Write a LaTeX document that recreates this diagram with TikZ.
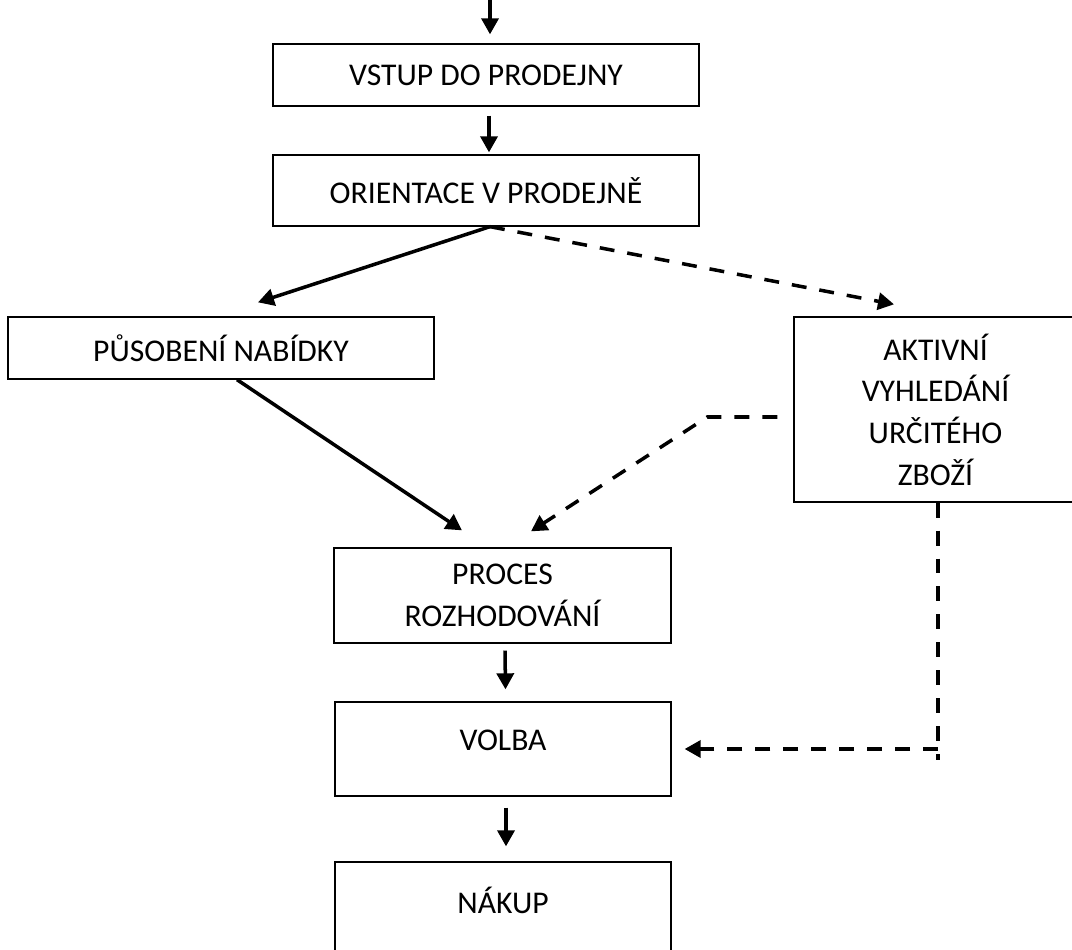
\documentclass[tikz,border=0pt]{standalone}
\usepackage{fontspec}
\setmainfont{Carlito}
\usetikzlibrary{arrows.meta}
\begin{document}
\begin{tikzpicture}[font=\fontsize{18}{23.7}\selectfont, >={Triangle[length=0.32cm,width=0.34cm]},
  box/.style={draw, line width=0.75pt, inner sep=0pt, align=center},
  conn/.style={->, line width=2pt},
  dashconn/.style={line width=2pt, dash pattern=on 8.5pt off 7.4pt}]
  \useasboundingbox (0,0) rectangle (21.44,-19);

  \node[box, minimum width=8.52cm, minimum height=1.24cm] (vstup)  at (9.72,-1.5)   {VSTUP DO PRODEJNY};
  \node[box, minimum width=8.52cm, minimum height=1.42cm] (orient) at (9.72,-3.81)  {ORIENTACE V PRODEJNĚ};
  \node[box, minimum width=8.52cm, minimum height=1.24cm] (pusob)  at (4.42,-6.96)  {PŮSOBENÍ NABÍDKY};
  \node[box, minimum width=5.66cm, minimum height=3.7cm]  (aktiv)  at (18.71,-8.19) {AKTIVNÍ\\VYHLEDÁNÍ\\URČITÉHO\\ZBOŽÍ};
  \node[box, minimum width=6.74cm, minimum height=1.9cm]  (proces) at (10.05,-11.91) {PROCES\\ROZHODOVÁNÍ};
  \node[box, minimum width=6.72cm, minimum height=1.88cm, text depth=0.36cm] (volba) at (10.06,-14.98) {VOLBA};
  \node[box, minimum width=6.72cm, minimum height=1.88cm, text depth=0.36cm] (nakup) at (10.06,-18.18) {NÁKUP};

  \coordinate (start) at (9.8,0);
  \coordinate (turn) at ([xshift=0.05cm]aktiv.south |- volba.east);

  % solid flow
  \draw[conn] (start) -- ([xshift=0.08cm,yshift=0.18cm]vstup.north);
  \draw[conn] ([xshift=0.06cm,yshift=-0.18cm]vstup.south) -- ([xshift=0.06cm,yshift=0.04cm]orient.north);
  \draw[conn] ([xshift=0.08cm]orient.south) -- ([xshift=0.74cm,yshift=0.28cm]pusob.north);
  \draw[conn] ([xshift=0.32cm]pusob.south) -- ([xshift=-0.81cm,yshift=0.34cm]proces.north);
  \draw[conn] ([xshift=0.05cm,yshift=-0.14cm]proces.south) -- ([xshift=0.05cm,yshift=0.24cm]volba.north);
  \draw[conn] ([xshift=0.06cm,yshift=-0.22cm]volba.south) -- ([xshift=0.06cm,yshift=0.3cm]nakup.north);

  % dashed flow
  \draw[dashconn, ->] ([xshift=0.08cm]orient.south) -- ([xshift=-0.83cm,yshift=0.24cm]aktiv.north);
  \draw[dashconn, ->] ([xshift=-0.32cm,yshift=-0.15cm]aktiv.west) -- ++(-1.4,0) -- ([xshift=0.57cm,yshift=0.32cm]proces.north);
  \draw[dashconn] ([xshift=0.05cm]aktiv.south) -- ([yshift=-0.22cm]turn);
  \draw[dashconn, ->] (turn) -- ([xshift=0.26cm]volba.east);
\end{tikzpicture}
\end{document}
